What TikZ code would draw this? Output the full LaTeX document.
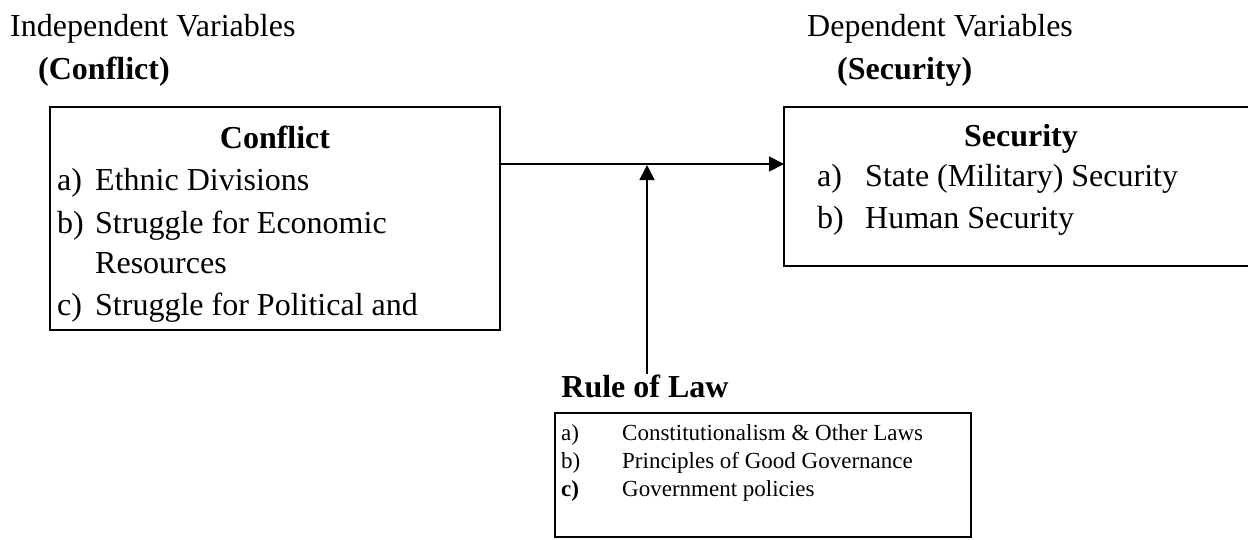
\documentclass[tikz,border=0pt]{standalone}
\usepackage{fontspec}
\setmainfont{Liberation Serif}
\usetikzlibrary{arrows.meta}
\tikzset{
  vbox/.style={draw=black, line width=1.8pt},
  vtext/.style={inner sep=0pt, anchor=base west, font=\fontsize{32}{38}\selectfont},
  vhead/.style={inner sep=0pt, anchor=base, font=\fontsize{32}{38}\selectfont\bfseries},
  rtext/.style={inner sep=0pt, anchor=base west, font=\fontsize{23}{28}\selectfont},
  vlink/.style={line width=1.8pt, -{Triangle[length=15pt,width=15pt]}},
}

\begin{document}
\begin{tikzpicture}[x=1pt, y=-1pt]
\useasboundingbox (0,0) rectangle (1248,539);
% headings
\node[vtext] (indep) at (10,36) {Independent Variables};
\node[vtext, font=\fontsize{32}{38}\selectfont\bfseries] (indepc) at (38,79) {(Conflict)};
\node[vtext] (dep) at (807,36) {Dependent Variables};
\node[vtext, font=\fontsize{32}{38}\selectfont\bfseries] (depc) at (837,79) {(Security)};
% conflict box
\draw[vbox] (50,107) rectangle (500,330);
\node[vhead] (conf) at (275,148) {Conflict};
\node[vtext] (ca) at (57,190) {a)};
\node[vtext] (cat) at (95,190) {Ethnic Divisions};
\node[vtext] (cb) at (57,233) {b)};
\node[vtext] (cbt) at (95,233) {Struggle for Economic};
\node[vtext] (cbr) at (95,273) {Resources};
\node[vtext] (cc) at (57,315) {c)};
\node[vtext] (cct) at (95,315) {Struggle for Political and};
\coordinate (cout) at (500,164);
% security box
\draw[vbox] (784,107) rectangle (1252,266);
\node[vhead] (sec) at (1021,146) {Security};
\node[vtext] (sa) at (817,186) {a)};
\node[vtext] (sat) at (865,186) {State (Military) Security};
\node[vtext] (sb) at (817,228) {b)};
\node[vtext] (sbt) at (865,228) {Human Security};
\coordinate (sin) at (784,164);
% rule of law
\node[vhead] (rule) at (645,397) {Rule of Law};
\draw[vbox] (555,413) rectangle (971,537);
\node[rtext] (ra) at (561,440) {a)};
\node[rtext] (rat) at (622,440) {Constitutionalism \& Other Laws};
\node[rtext] (rb) at (561,468) {b)};
\node[rtext] (rbt) at (622,468) {Principles of Good Governance};
\node[rtext, font=\fontsize{23}{28}\selectfont\bfseries] (rc) at (561,496) {c)};
\node[rtext] (rct) at (622,496) {Government policies};
\coordinate (rtop) at (647,374);
\coordinate (rhit) at (647,165);
% arrows
\draw[vlink] (cout) -- (sin);
\draw[vlink] (rtop) -- (rhit);
\end{tikzpicture}
\end{document}
